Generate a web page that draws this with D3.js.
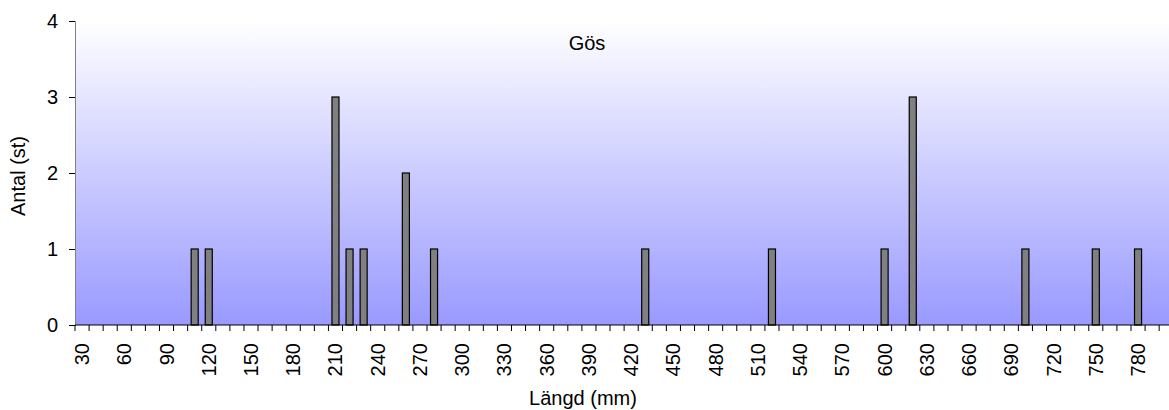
<!DOCTYPE html>
<html>
<head>
<meta charset="utf-8">
<script src="https://cdn.jsdelivr.net/npm/d3@7"></script>
<style>
  body { margin: 0; background: #fff; }
  svg { display: block; font-family: "Liberation Sans", Arial, sans-serif; }
</style>
</head>
<body>
<div id="chart"></div>
<script>
// length classes (mm)
const lengths = [30, 40, 50, 60, 70, 80, 90, 100, 110, 120,
  130, 140, 150, 160, 170, 180, 190, 200, 210, 220,
  230, 240, 250, 260, 270, 280, 290, 300, 310, 320,
  330, 340, 350, 360, 370, 380, 390, 400, 410, 420,
  430, 440, 450, 460, 470, 480, 490, 500, 510, 520,
  530, 540, 550, 560, 570, 580, 590, 600, 610, 620,
  630, 640, 650, 660, 670, 680, 690, 700, 710, 720,
  730, 740, 750, 760, 770, 780, 790, 800];

// number of fish per class
const counts = [0, 0, 0, 0, 0, 0, 0, 0, 1, 1,
  0, 0, 0, 0, 0, 0, 0, 0, 3, 1,
  1, 0, 0, 2, 0, 1, 0, 0, 0, 0,
  0, 0, 0, 0, 0, 0, 0, 0, 0, 0,
  1, 0, 0, 0, 0, 0, 0, 0, 0, 1,
  0, 0, 0, 0, 0, 0, 0, 1, 0, 3,
  0, 0, 0, 0, 0, 0, 0, 1, 0, 0,
  0, 0, 1, 0, 0, 1, 0, 0];

const xTickLabels = [30, 60, 90, 120, 150, 180, 210, 240, 270, 300, 330, 360, 390,
  420, 450, 480, 510, 540, 570, 600, 630, 660, 690, 720, 750, 780];
const yTicks = [0, 1, 2, 3, 4];

const title = "Gös";
const xTitle = "Längd (mm)";
const yTitle = "Antal (st)";

const width = 1169, height = 410;
const plot = { left: 75, top: 21, bottom: 325, right: 75 + 78 * 14.08 };
const fs = 20;

const svg = d3.select('#chart').append('svg')
  .attr('width', width)
  .attr('height', height);

// background gradient
const grad = svg.append('defs').append('linearGradient')
  .attr('id', 'bg')
  .attr('x1', 0).attr('y1', 0).attr('x2', 0).attr('y2', 1);
grad.append('stop').attr('offset', '0%').attr('stop-color', '#ffffff');
grad.append('stop').attr('offset', '100%').attr('stop-color', '#9999ff');

const x = d3.scaleBand()
  .domain(lengths)
  .range([plot.left, plot.right])
  .padding(0);

const y = d3.scaleLinear()
  .domain([0, 4])
  .range([plot.bottom, plot.top]);

svg.append('rect')
  .attr('x', plot.left)
  .attr('y', plot.top)
  .attr('width', plot.right - plot.left)
  .attr('height', plot.bottom - plot.top)
  .attr('fill', 'url(#bg)');

// bars (gap width 100%)
const bw = x.bandwidth() * 0.5;
svg.append('g').selectAll('rect')
  .data(lengths.map((l, i) => ({ l, c: counts[i] })).filter(d => d.c > 0))
  .join('rect')
  .attr('x', d => x(d.l) + (x.bandwidth() - bw) / 2)
  .attr('y', d => y(d.c))
  .attr('width', bw)
  .attr('height', d => y(0) - y(d.c))
  .attr('fill', '#808080')
  .attr('stroke', '#000')
  .attr('stroke-width', 1.2);

// y axis
const yAxis = svg.append('g')
  .attr('transform', `translate(${plot.left},0)`)
  .call(d3.axisLeft(y).tickValues(yTicks).tickFormat(d3.format('d')).tickSize(6).tickPadding(11));
yAxis.select('.domain').attr('stroke', '#808080');
yAxis.selectAll('.tick line').attr('stroke', '#000');
yAxis.selectAll('.tick text')
  .attr('font-size', fs)
  .attr('font-family', '"Liberation Sans", Arial, sans-serif')
  .attr('fill', '#000');

// x axis line + ticks between categories
const xg = svg.append('g');
xg.append('line')
  .attr('x1', plot.left).attr('x2', plot.right)
  .attr('y1', plot.bottom).attr('y2', plot.bottom)
  .attr('stroke', '#000');
xg.selectAll('line.tk')
  .data(lengths)
  .join('line')
  .attr('class', 'tk')
  .attr('x1', d => x(d)).attr('x2', d => x(d))
  .attr('y1', plot.bottom).attr('y2', plot.bottom + 6)
  .attr('stroke', '#000');

// x tick labels, rotated
xg.selectAll('text')
  .data(xTickLabels)
  .join('text')
  .attr('transform', d => `translate(${x(d) + x.bandwidth() / 2 + 7},${plot.bottom + 18}) rotate(-90)`)
  .attr('text-anchor', 'end')
  .attr('font-size', fs)
  .text(d => d);

// titles
svg.append('text')
  .attr('x', 587).attr('y', 50)
  .attr('text-anchor', 'middle')
  .attr('font-size', fs)
  .text(title);

svg.append('text')
  .attr('x', 583).attr('y', 405)
  .attr('text-anchor', 'middle')
  .attr('font-size', fs)
  .text(xTitle);

svg.append('text')
  .attr('transform', `translate(25,176) rotate(-90)`)
  .attr('text-anchor', 'middle')
  .attr('font-size', fs)
  .text(yTitle);
</script>
</body>
</html>
